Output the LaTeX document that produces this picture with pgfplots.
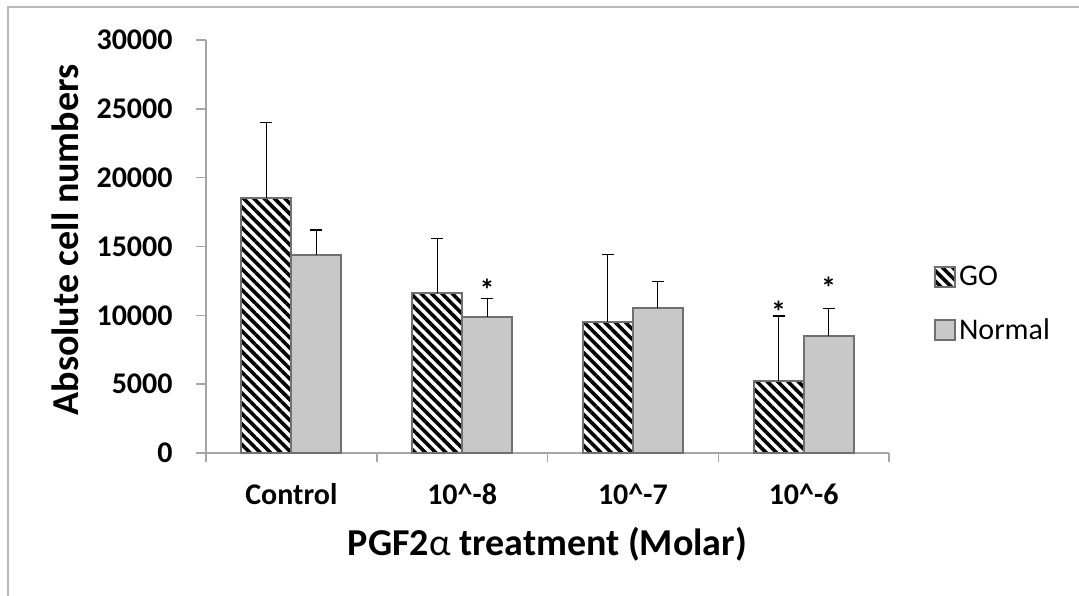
\documentclass[border=0pt]{standalone}
\usepackage{fontspec}
\setmainfont{Carlito}
\usepackage{pgfplots}
\pgfplotsset{compat=1.18}
\usetikzlibrary{patterns.meta}

\definecolor{normalfill}{RGB}{200,200,200}
\definecolor{barline}{RGB}{112,112,112}
\definecolor{axisgray}{RGB}{166,166,166}
\definecolor{framegray}{RGB}{185,185,185}

\pgfplotsset{
  squarelegend/.style={legend image code/.code={%
    \draw[##1, line width=0.8pt] (0pt,-5pt) rectangle (10pt,5pt);}},
  upper sd/.style={error bars/.cd, y dir=plus, y explicit,
    error bar style={black, line width=0.6pt},
    error mark options={rotate=90, mark size=3pt, black, line width=0.6pt}},
}

% mean cell numbers with upper error (SD), per treatment
\pgfplotstableread{
x go   goerr normal normalerr
0 18500 5500 14400 1800
1 11600 4000  9900 1300
2  9550 4850 10500 1950
3  5200 4750  8500 2000
}\cells

\begin{document}
\begin{tikzpicture}
% outer chart frame (left and top edges)
\draw[framegray, line width=0.6pt] (4pt,-320pt) -- (4pt,-3.5pt) -- (600pt,-3.5pt);
\begin{axis}[
  at={(103pt,-226.5pt)}, anchor=south west,
  scale only axis, width=341.5pt, height=206.5pt,
  ybar=0pt, bar width=0.293,
  xmin=-0.5, xmax=3.5, ymin=0, ymax=30000,
  axis x line*=bottom, axis y line*=left,
  axis line style={axisgray, line width=0.75pt},
  tick align=outside,
  major tick length=5pt, minor tick length=4.5pt,
  xtick={0,1,2,3},
  xticklabels={Control,10\textasciicircum-8,10\textasciicircum-7,10\textasciicircum-6},
  minor xtick={-0.5,0.5,1.5,2.5,3.5},
  major x tick style={draw=none},
  minor x tick style={axisgray, line width=0.75pt},
  ytick={0,5000,...,30000},
  ytick style={axisgray, line width=0.75pt},
  scaled y ticks=false,
  /pgf/number format/fixed,
  /pgf/number format/1000 sep={},
  /pgf/number format/assume math mode=true,
  xticklabel style={font=\bfseries\fontsize{15}{18}\selectfont, anchor=base, yshift=-20.5pt},
  yticklabel style={font=\bfseries\fontsize{15}{18}\selectfont, inner sep=0pt, xshift=-11.5pt},
  xlabel={PGF2{\mdseries α} treatment (Molar)},
  ylabel={Absolute cell numbers},
  every axis x label/.style={at={(axis description cs:0.5,-0.247)}, anchor=base,
    font=\bfseries\fontsize{19}{22}\selectfont},
  every axis y label/.style={at={(axis description cs:-0.186,0.516)}, rotate=90, anchor=base,
    font=\bfseries\fontsize{19}{22}\selectfont},
  legend style={draw=none, fill=none, at={(axis description cs:1.066,0.361)}, anchor=west,
    inner sep=0pt, row sep=12pt, font=\fontsize{15}{18}\selectfont,
    nodes={inner sep=1.5pt}},
  legend cell align=left,
  clip=false,
]
\addplot[pattern={Lines[angle=-45,distance=3.65pt,line width=1.8pt]}, pattern color=black,
  draw=barline, line width=1pt, squarelegend, upper sd]
  table[x=x, y=go, y error=goerr] {\cells};
\addlegendentry{GO}
\addplot[fill=normalfill, draw=barline, line width=1pt, squarelegend, upper sd]
  table[x=x, y=normal, y error=normalerr] {\cells};
\addlegendentry{Normal}
% significance marks
\node[anchor=base, font=\bfseries\fontsize{15}{18}\selectfont, inner sep=0pt] at (axis cs:1.1465,11050) {*};
\node[anchor=base, font=\bfseries\fontsize{15}{18}\selectfont, inner sep=0pt] at (axis cs:2.8535,9450) {*};
\node[anchor=base, font=\bfseries\fontsize{15}{18}\selectfont, inner sep=0pt] at (axis cs:3.1465,11220) {*};
\end{axis}
\pgfresetboundingbox
\path[use as bounding box] (0pt,0pt) rectangle (539.5pt,-297.5pt);
\end{tikzpicture}
\end{document}
